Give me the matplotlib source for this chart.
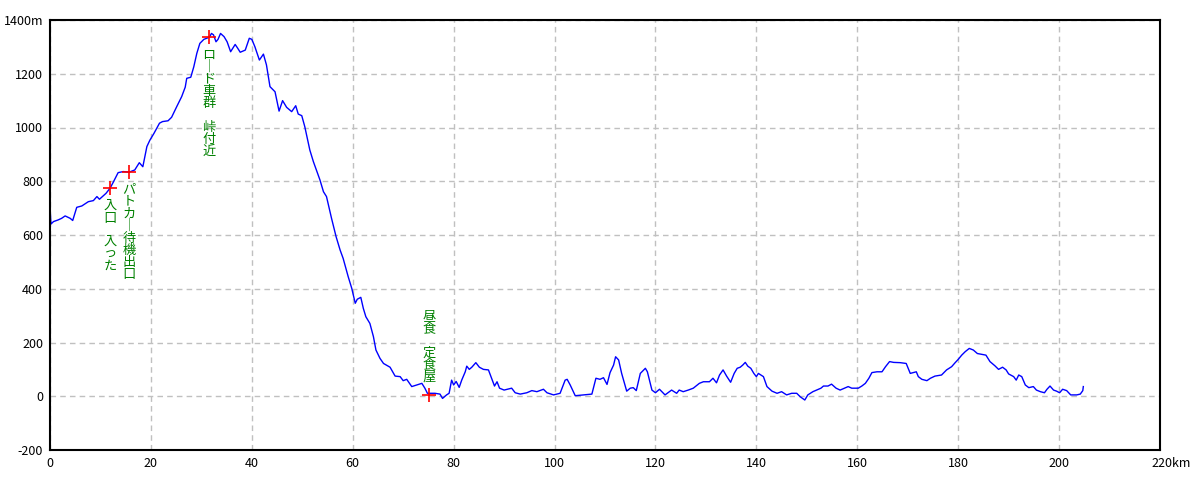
import matplotlib
matplotlib.use("Agg")
import matplotlib.pyplot as plt
import matplotlib.transforms as mtransforms

# 距離[km] と 標高[m]
km = [0.0, 0.2, 0.7, 1.6, 2.3, 3.0, 4.0, 4.5, 5.3, 6.3, 7.6, 8.6, 9.3, 9.8,
      11.1, 11.9, 12.5, 13.5, 14.5, 15.7, 16.8, 17.7, 18.4, 19.2, 19.8, 20.6,
      21.7, 22.3, 23.4, 24.1, 25.1, 26.1, 26.8, 27.1, 27.9, 28.5, 29.1, 29.7,
      30.5, 31.6, 32.0, 32.4, 32.9, 33.3, 33.8, 34.5, 35.1, 35.8, 36.7, 37.2,
      37.7, 38.7, 39.5, 40.0, 40.6, 41.5, 42.3, 42.9, 43.6, 44.6, 45.4, 46.1,
      46.9, 47.9, 48.7, 49.2, 49.9, 50.5, 51.5, 52.2, 53.5, 54.2, 54.8, 55.8,
      56.7, 57.5, 58.1, 59.1, 59.8, 60.5, 60.9, 61.6, 62.1, 62.6, 63.4, 64.1,
      64.6, 65.4, 66.1, 67.4, 68.4, 69.4, 70.0, 70.7, 71.7, 72.7, 73.7, 74.3,
      74.8, 76.3, 77.3, 77.8, 78.6, 79.1, 79.6, 80.0, 80.5, 81.1, 81.6, 82.3,
      82.6, 83.1, 83.6, 84.4, 85.1, 85.9, 86.9, 87.4, 88.1, 88.6, 89.1, 90.0,
      91.5, 92.2, 93.2, 94.5, 95.5, 96.5, 97.8, 98.5, 99.8, 101.1, 102.1, 102.5,
      103.1, 104.1, 107.4, 108.2, 109.0, 109.7, 110.4, 111.0, 111.7, 112.1,
      112.7, 113.3, 114.3, 115.0, 115.6, 116.2, 117.0, 118.0, 118.4, 119.3,
      120.0, 120.8, 121.9, 123.2, 124.2, 124.7, 125.5, 126.5, 127.5, 128.7,
      129.5, 130.7, 131.4, 132.1, 132.7, 133.4, 134.1, 134.9, 135.6, 136.2,
      136.8, 137.3, 137.8, 138.3, 138.9, 139.5, 140.0, 140.4, 141.4, 142.1,
      143.1, 144.1, 145.0, 146.0, 147.0, 148.0, 148.7, 149.6, 150.2, 151.2,
      152.8, 153.3, 154.2, 154.9, 155.8, 156.6, 158.2, 158.9, 160.2, 160.9,
      161.6, 162.3, 162.9, 163.9, 164.9, 165.6, 166.4, 167.2, 168.5, 169.7,
      170.5, 171.7, 172.1, 172.8, 173.8, 174.5, 175.4, 176.7, 177.7, 178.7,
      179.4, 180.0, 180.7, 181.4, 182.2, 183.0, 183.8, 185.5, 186.3, 187.3,
      188.0, 188.8, 189.5, 190.0, 191.0, 191.5, 192.0, 192.6, 193.3, 194.0,
      194.9, 195.5, 196.3, 197.1, 197.6, 198.2, 198.9, 199.5, 200.1, 200.7,
      201.5, 202.3, 203.5, 204.2, 204.7, 204.8]
elev = [700, 641, 650, 656, 662, 671, 662, 654, 703, 708, 724, 728, 743, 733,
        755, 774, 795, 832, 836, 834, 842, 869, 854, 929, 953, 978,
        1016, 1022, 1025, 1038, 1077, 1115, 1150, 1183, 1187, 1226, 1276, 1313,
        1328, 1336, 1350, 1345, 1319, 1328, 1350, 1338, 1319, 1282, 1309, 1295,
        1280, 1288, 1332, 1328, 1301, 1251, 1273, 1233, 1152, 1133, 1061, 1100,
        1075, 1059, 1081, 1050, 1044, 1003, 916, 873, 805, 761, 743, 662,
        594, 544, 513, 445, 402, 346, 361, 368, 327, 296, 271, 222,
        172, 141, 122, 108, 75, 73, 58, 63, 36, 42, 48, 30,
        11, 11, 8, -8, 5, 11, 60, 42, 55, 33, 60, 91,
        112, 100, 108, 125, 108, 100, 98, 73, 38, 54, 30, 23,
        30, 13, 8, 13, 21, 17, 26, 13, 5, 11, 60, 63,
        42, 2, 8, 67, 63, 69, 44, 88, 116, 147,
        135, 85, 19, 30, 32, 21, 85, 104, 91, 23,
        13, 26, 5, 23, 11, 23, 17, 23, 30, 48,
        54, 54, 67, 50, 79, 98, 75, 52, 85, 104,
        108, 116, 126, 112, 104, 85, 73, 85, 73, 36,
        19, 11, 17, 5, 11, 11, -2, -14, 5, 17,
        30, 38, 38, 45, 30, 23, 36, 30, 30, 38,
        48, 67, 88, 91, 91, 110, 129, 126, 125, 122,
        85, 91, 73, 63, 58, 67, 75, 79, 98, 110,
        125, 137, 153, 166, 178, 172, 159, 153, 129, 113,
        100, 108, 98, 83, 73, 60, 79, 73, 42, 32,
        36, 23, 17, 13, 26, 38, 23, 19, 13, 26,
        21, 5, 5, 8, 21, 36]

# 地点マーカー
mark_km = [11.9, 15.7, 31.5, 75.2]
mark_elev = [774, 834, 1336, 5]
mark_text = ["入口　入った", "パトカー待機出口", "ロード車群　峠付近", "昼食　定食屋"]
mark_below = [True, True, True, False]

xticks = list(range(0, 221, 20))
yticks = list(range(-200, 1401, 200))

cjk = ["Noto Sans CJK JP", "DejaVu Sans"]

fig = plt.figure(figsize=(12, 4.8), dpi=100)
ax = fig.add_axes([50 / 1200, 30 / 480, 1110 / 1200, 430 / 480])

ax.plot(km, elev, color="#0000ff", lw=1)
ax.plot(mark_km, mark_elev, "+", color="#ff0000", ms=10, mew=1.2, ls="none")

# 縦書きの注記（1文字ずつ並べる）
for x, y, s, below in zip(mark_km, mark_elev, mark_text, mark_below):
    chars = ["｜" if c == "ー" else c for c in s]
    n = len(chars)
    for i, c in enumerate(chars):
        if below:
            dy = -(18 + 12 * i)
        else:
            dy = 18 + 12 * (n - 1 - i)
        ax.annotate(c, (x, y), xytext=(0, dy), textcoords="offset pixels",
                    ha="center", va="center", color="#008000",
                    fontsize=9.5, family=cjk)

ax.set_xlim(0, 220)
ax.set_ylim(-200, 1400)
ax.set_xticks(xticks)
ax.set_yticks(yticks)
ax.set_xticklabels([str(v) for v in xticks[:-1]] + ["220km"], family=cjk, fontsize=9)
ax.set_yticklabels([str(v) for v in yticks[:-1]] + ["1400m"], family=cjk, fontsize=9)
ax.tick_params(length=0, pad=5)

# 220km は数字を目盛に合わせる
lab = ax.get_xticklabels()[-1]
lab.set_ha("left")
lab.set_transform(lab.get_transform() + mtransforms.ScaledTranslation(-9 / 100, 0, fig.dpi_scale_trans))

ax.grid(True, color="#c0c0c0", ls=(0, (4, 3)), lw=1)
for sp in ax.spines.values():
    sp.set_linewidth(1.5)
    sp.set_color("black")

fig.savefig("out.png", dpi=100)
